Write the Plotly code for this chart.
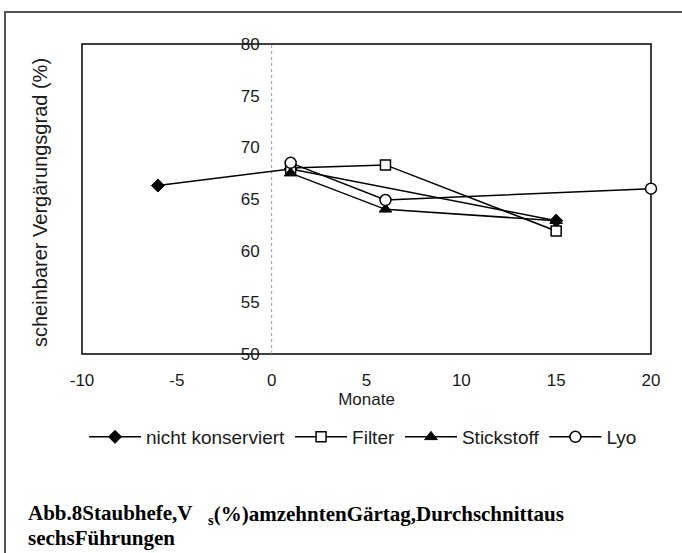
import plotly.graph_objects as go

# ---- data ----
series_names = ["nicht konserviert", "Filter", "Stickstoff", "Lyo"]
x_nicht = [-6, 1, 15]
y_nicht = [66.3, 67.9, 62.9]
x_filter = [1, 6, 15]
y_filter = [68.0, 68.3, 61.9]
x_stick = [1, 6, 15]
y_stick = [67.5, 64.0, 62.9]
x_lyo = [1, 6, 20]
y_lyo = [68.5, 64.9, 66.0]

x_ticks = [-10, -5, 0, 5, 10, 15, 20]
y_ticks = [50, 55, 60, 65, 70, 75, 80]

x_title = "Monate"
y_title = "scheinbarer Vergärungsgrad (%)"
caption_a = "Abb.8Staubhefe,V"
caption_b = "<sub>s</sub>(%)amzehntenGärtag,Durchschnittaus"
caption_c = "sechsFührungen"

# ---- layout constants ----
W, H = 682, 553
L, R, T, B = 82, 31, 44, 199
PW, PH = W - L - R, H - T - B


def px_x(p):
    return (p - L) / PW


def px_y(p):
    return (H - B - p) / PH


FONT = "Liberation Sans, Arial, sans-serif"
SERIF = "Liberation Serif, Times New Roman, serif"
TXT = "#1a1a1a"

styles = [
    dict(symbol="diamond", size=10, color="black", line=dict(color="black", width=1)),
    dict(symbol="square", size=10, color="white", line=dict(color="black", width=1.5)),
    dict(symbol="triangle-up", size=11, color="black", line=dict(color="black", width=1)),
    dict(symbol="circle", size=11, color="white", line=dict(color="black", width=1.5)),
]
data = [(x_nicht, y_nicht), (x_filter, y_filter), (x_stick, y_stick), (x_lyo, y_lyo)]

fig = go.Figure()
for name, (xs, ys), st in zip(series_names, data, styles):
    fig.add_trace(go.Scatter(
        x=xs, y=ys, name=name, mode="lines+markers",
        line=dict(color="black", width=1.5),
        marker=st, cliponaxis=False,
    ))

fig.update_layout(
    width=W, height=H,
    margin=dict(l=L, r=R, t=T, b=B, pad=0),
    paper_bgcolor="white", plot_bgcolor="white",
    font=dict(family=FONT, size=17, color=TXT),
    showlegend=True,
    legend=dict(
        orientation="h", x=px_x(84), y=px_y(437), xanchor="left", yanchor="middle",
        font=dict(family=FONT, size=19, color=TXT), bgcolor="rgba(0,0,0,0)",
        itemwidth=52, tracegroupgap=0,
    ),
    xaxis=dict(
        range=[-10, 20], tickmode="array", tickvals=x_ticks,
        ticktext=[str(v) for v in x_ticks],
        showgrid=False, zeroline=False, showline=False, ticks="",
        ticklabelstandoff=14,
        title=dict(text=x_title, standoff=4, font=dict(size=17)),
    ),
    yaxis=dict(
        range=[50, 80], tickmode="array", tickvals=y_ticks,
        ticktext=[str(v) for v in y_ticks],
        showgrid=False, zeroline=False, showline=False, ticks="",
        anchor="free", position=1 / 3, ticklabelstandoff=12,
    ),
    shapes=[
        # plot frame
        dict(type="rect", xref="x domain", yref="y domain", x0=0, x1=1, y0=0, y1=1,
             line=dict(color="black", width=1.5), layer="below"),
        # dotted y axis line at x = 0
        dict(type="line", xref="x", yref="y domain", x0=0, x1=0, y0=0, y1=1,
             line=dict(color="#999999", width=1, dash="dot"), layer="below"),
        # outer figure border
        dict(type="rect", xref="paper", yref="paper",
             x0=px_x(5), x1=px_x(690), y0=px_y(560), y1=px_y(12),
             line=dict(color="#555555", width=2), layer="below"),
    ],
    annotations=[
        dict(text=y_title, xref="paper", yref="paper", x=px_x(40), y=px_y(203),
             textangle=-90, showarrow=False, xanchor="center", yanchor="middle",
             font=dict(family=FONT, size=20, color=TXT)),
        dict(text="<b>" + caption_a + "</b>", xref="paper", yref="paper",
             x=px_x(26), y=px_y(513), showarrow=False, xanchor="left", yanchor="middle",
             font=dict(family=SERIF, size=21, color="black")),
        dict(text="<b>" + caption_b + "</b>", xref="paper", yref="paper",
             x=px_x(206), y=px_y(515), showarrow=False, xanchor="left", yanchor="middle",
             font=dict(family=SERIF, size=21, color="black")),
        dict(text="<b>" + caption_c + "</b>", xref="paper", yref="paper",
             x=px_x(26), y=px_y(538), showarrow=False, xanchor="left", yanchor="middle",
             font=dict(family=SERIF, size=21, color="black")),
    ],
)

fig.write_html("out.html")
